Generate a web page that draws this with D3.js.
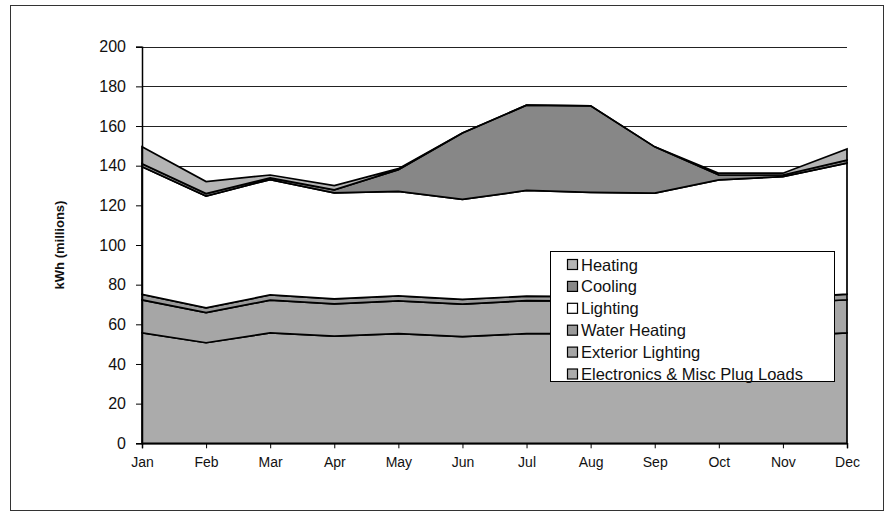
<!DOCTYPE html>
<html>
<head>
<meta charset="utf-8">
<script src="https://cdn.jsdelivr.net/npm/d3@7"></script>
<style>
  html, body { margin: 0; padding: 0; background: #fff; }
  svg { display: block; font-family: "Liberation Sans", Arial, sans-serif; }
</style>
</head>
<body>
<svg id="chart" width="886" height="516"></svg>
<script>
// Monthly residential electricity use by end use (kWh, millions)
const months = ["Jan", "Feb", "Mar", "Apr", "May", "Jun", "Jul", "Aug", "Sep", "Oct", "Nov", "Dec"];
const yTicks = [0, 20, 40, 60, 80, 100, 120, 140, 160, 180, 200];

// Series listed bottom of the stack first
const electronics = [55.7, 50.7, 55.7, 54.0, 55.3, 53.8, 55.3, 55.3, 53.8, 55.3, 54.0, 55.7];
const exteriorLighting = [16.6, 15.2, 16.5, 16.3, 16.5, 16.4, 16.6, 16.4, 16.3, 16.6, 16.6, 16.7];
const waterHeating = [2.8, 2.4, 2.6, 2.5, 2.5, 2.4, 2.3, 2.3, 2.3, 2.5, 2.6, 2.8];
const lighting = [64.4, 56.4, 58.2, 53.5, 52.7, 50.4, 53.3, 52.5, 53.8, 58.4, 61.3, 66.1];
const cooling = [1.5, 1.2, 0.8, 1.5, 11.0, 33.5, 43.0, 43.7, 23.3, 2.5, 0.8, 1.5];
const heating = [8.5, 6.1, 1.5, 2.2, 0.5, 0, 0, 0, 0, 0.9, 0.9, 5.6];

const seriesNames = ["Electronics & Misc Plug Loads", "Exterior Lighting", "Water Heating", "Lighting", "Cooling", "Heating"];
const seriesValues = [electronics, exteriorLighting, waterHeating, lighting, cooling, heating];
const seriesFills = ["#ababab", "#a6a6a6", "#9a9a9a", "#ffffff", "#878787", "#b4b4b4"];

const rows = months.map((m, i) => {
  const r = { month: m };
  seriesNames.forEach((s, k) => { r[s] = seriesValues[k][i]; });
  return r;
});

const svg = d3.select("#chart");

// Outer chart frame
svg.append("rect")
  .attr("x", 10.5).attr("y", 5.5)
  .attr("width", 873).attr("height", 505)
  .attr("fill", "none").attr("stroke", "#333").attr("stroke-width", 1);

const x = d3.scalePoint().domain(months).range([142, 847]);
const y = d3.scaleLinear().domain([0, 200]).range([443.3, 46.7]);

// Gridlines
svg.append("g").selectAll("line")
  .data(yTicks.filter(t => t > 0))
  .join("line")
  .attr("x1", 142).attr("x2", 847)
  .attr("y1", d => Math.round(y(d)) + 0.5).attr("y2", d => Math.round(y(d)) + 0.5)
  .attr("stroke", "#222").attr("stroke-width", 1);

// Stacked areas
const stack = d3.stack().keys(seriesNames);
const layers = stack(rows);

const area = d3.area()
  .x(d => x(d.data.month))
  .y0(d => y(d[0]))
  .y1(d => y(d[1]));

svg.append("g").selectAll("path")
  .data(layers)
  .join("path")
  .attr("d", area)
  .attr("fill", (d, i) => seriesFills[i])
  .attr("stroke", "#000")
  .attr("stroke-width", 1.7)
  .attr("stroke-linejoin", "miter");

// Y axis
const yAxis = d3.axisLeft(y).tickValues(yTicks).tickSize(6).tickPadding(10);
const gy = svg.append("g").attr("transform", "translate(142,0)").call(yAxis);
gy.select(".domain").attr("stroke", "#000").attr("stroke-width", 1.5);
gy.selectAll(".tick line").attr("stroke", "#000");
gy.selectAll(".tick text").attr("font-size", 16).attr("fill", "#111")
  .attr("font-family", "Liberation Sans, Arial, sans-serif");

// X axis
const xAxis = d3.axisBottom(x).tickSize(5).tickPadding(9);
const gx = svg.append("g").attr("transform", "translate(0,443.3)").call(xAxis);
gx.select(".domain").attr("stroke", "#000").attr("stroke-width", 1.5);
gx.selectAll(".tick line").attr("stroke", "#000");
gx.selectAll(".tick text").attr("font-size", 14).attr("fill", "#111")
  .attr("font-family", "Liberation Sans, Arial, sans-serif");

// Y axis title
svg.append("text")
  .attr("transform", "translate(64,245) rotate(-90)")
  .attr("text-anchor", "middle")
  .attr("font-size", 13).attr("font-weight", "bold").attr("fill", "#111")
  .text("kWh (millions)");

// Legend (top of stack first)
const legend = svg.append("g");
legend.append("rect")
  .attr("x", 550.5).attr("y", 251.5)
  .attr("width", 284).attr("height", 130)
  .attr("fill", "#fff").attr("stroke", "#000").attr("stroke-width", 1);

const legendItems = seriesNames.map((n, i) => ({ name: n, fill: seriesFills[i] })).reverse();
const li = legend.selectAll("g.item")
  .data(legendItems)
  .join("g")
  .attr("class", "item")
  .attr("transform", (d, i) => `translate(0,${264.5 + i * 21.9})`);
li.append("rect")
  .attr("x", 567.5).attr("y", -5)
  .attr("width", 10).attr("height", 10)
  .attr("fill", d => d.fill).attr("stroke", "#000").attr("stroke-width", 1.2);
li.append("text")
  .attr("x", 581).attr("y", 6)
  .attr("font-size", 16.5).attr("fill", "#111")
  .text(d => d.name);
</script>
</body>
</html>
